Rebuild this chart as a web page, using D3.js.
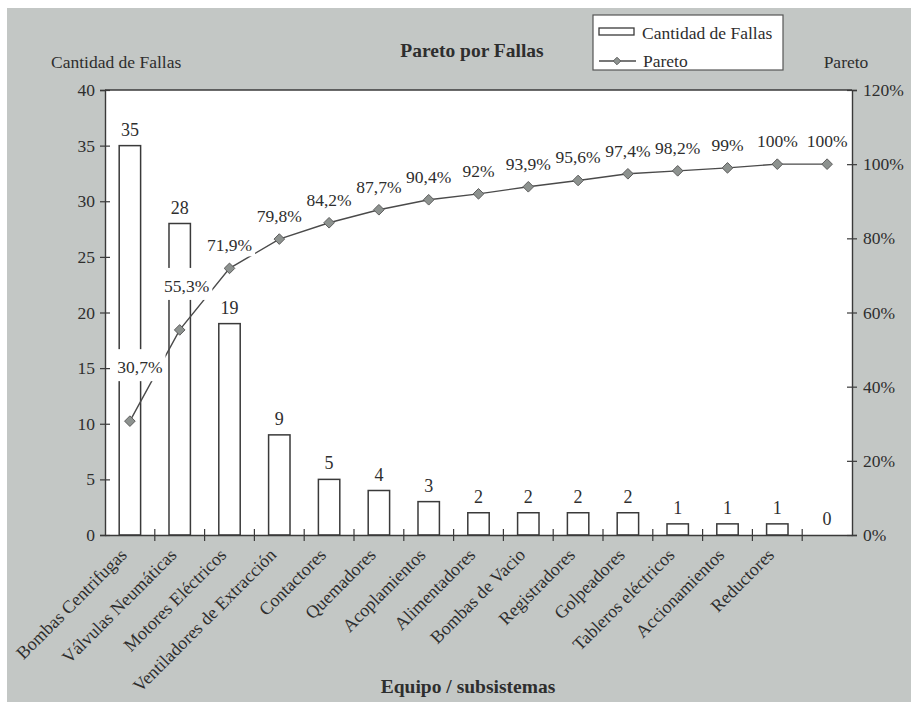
<!DOCTYPE html>
<html>
<head>
<meta charset="utf-8">
<script src="https://cdn.jsdelivr.net/npm/d3@7"></script>
<style>
  html, body { margin: 0; padding: 0; background: #ffffff; }
  svg { display: block; }
  text { font-family: "Liberation Serif", "Times New Roman", serif; fill: #2e2e2e; }
</style>
</head>
<body>
<svg id="chart" width="911" height="702"></svg>
<script>
// Failure counts per equipment / subsystem, sorted for the Pareto analysis
const categories = [
  "Bombas Centrifugas", "Válvulas Neumáticas", "Motores Eléctricos",
  "Ventiladores de Extracción", "Contactores", "Quemadores", "Acoplamientos",
  "Alimentadores", "Bombas de Vacio", "Registradores", "Golpeadores",
  "Tableros eléctricos", "Accionamientos", "Reductores", ""
];
const fallas = [35, 28, 19, 9, 5, 4, 3, 2, 2, 2, 2, 1, 1, 1, 0];
// Cumulative percentage (as printed on the chart)
const pareto = [30.7, 55.3, 71.9, 79.8, 84.2, 87.7, 90.4, 92, 93.9, 95.6, 97.4, 98.2, 99, 100, 100];
const countTicks = [0, 5, 10, 15, 20, 25, 30, 35, 40];
const pctTicks = [0, 20, 40, 60, 80, 100, 120];

const svg = d3.select("#chart");
const W = 911, H = 702;
const plot = { left: 105, right: 852, top: 90, bottom: 535 };

// scanned-page grey background
svg.append("rect").attr("x", 7).attr("y", 8).attr("width", W - 7).attr("height", H - 8)
  .attr("fill", "#c3c7c5");

// white plot area
svg.append("rect")
  .attr("x", plot.left).attr("y", plot.top)
  .attr("width", plot.right - plot.left).attr("height", plot.bottom - plot.top)
  .attr("fill", "#ffffff");

const x = d3.scaleBand().domain(d3.range(categories.length))
  .range([plot.left, plot.right]).paddingInner(0).paddingOuter(0);
const yCount = d3.scaleLinear().domain([0, 40]).range([plot.bottom, plot.top]);
const yPct = d3.scaleLinear().domain([0, 120]).range([plot.bottom, plot.top]);
const barW = x.bandwidth() * 0.43;
const cx = i => x(i) + x.bandwidth() / 2;

const ink = "#3a3a3a";

// top frame line
svg.append("line")
  .attr("x1", plot.left).attr("x2", plot.right)
  .attr("y1", plot.top).attr("y2", plot.top)
  .attr("stroke", ink).attr("stroke-width", 1.4);

// bars
svg.append("g").selectAll("rect").data(fallas).join("rect")
  .attr("x", (d, i) => cx(i) - barW / 2)
  .attr("y", d => yCount(d))
  .attr("width", barW)
  .attr("height", d => plot.bottom - yCount(d))
  .attr("fill", "#ffffff")
  .attr("stroke", ink).attr("stroke-width", 1.5);

// bar value labels
svg.append("g").selectAll("text").data(fallas).join("text")
  .attr("x", (d, i) => cx(i))
  .attr("y", d => yCount(d) - 10)
  .attr("text-anchor", "middle")
  .attr("font-size", 18)
  .text(d => d);

// left axis
const gL = svg.append("g").attr("transform", `translate(${plot.left},0)`)
  .call(d3.axisLeft(yCount).tickValues(countTicks).tickSize(5).tickPadding(5));
gL.selectAll(".tick line").attr("x1", 5).attr("x2", -5);
// right axis
const gR = svg.append("g").attr("transform", `translate(${plot.right},0)`)
  .call(d3.axisRight(yPct).tickValues(pctTicks).tickSize(5).tickPadding(6).tickFormat(d => d + "%"));
gR.selectAll(".tick line").attr("x1", -5).attr("x2", 5);
[gL, gR].forEach(g => {
  g.select(".domain").attr("stroke", ink).attr("stroke-width", 1.4);
  g.selectAll(".tick line").attr("stroke", ink).attr("stroke-width", 1.2);
  g.selectAll(".tick text").attr("font-size", 17.5).attr("fill", "#3a3a3a")
    .attr("font-family", "Liberation Serif, serif");
});

// bottom axis with ticks on the category boundaries
const gB = svg.append("g").attr("transform", `translate(0,${plot.bottom})`)
  .call(d3.axisBottom(x).tickSize(0).tickFormat(""));
gB.select(".domain").attr("stroke", ink).attr("stroke-width", 1.4);
gB.selectAll(".tick").remove();
gB.selectAll("line.sep").data(d3.range(1, categories.length)).join("line")
  .attr("class", "sep")
  .attr("x1", i => x(i)).attr("x2", i => x(i))
  .attr("y1", -6).attr("y2", 6)
  .attr("stroke", ink).attr("stroke-width", 1.2);

// category labels, rotated 45 degrees
svg.append("g").selectAll("text").data(categories).join("text")
  .attr("transform", (d, i) => `translate(${cx(i) - 2},${plot.bottom + 21}) rotate(-45)`)
  .attr("text-anchor", "end")
  .attr("font-size", 18)
  .text(d => d);

// cumulative line
const line = d3.line().x((d, i) => cx(i)).y(d => yPct(d));
svg.append("path").datum(pareto)
  .attr("d", line)
  .attr("fill", "none").attr("stroke", "#4a4a4a").attr("stroke-width", 1.4);

const diamond = d3.symbol().type(d3.symbolDiamond2).size(72);
svg.append("g").selectAll("path").data(pareto).join("path")
  .attr("transform", (d, i) => `translate(${cx(i)},${yPct(d)})`)
  .attr("d", diamond)
  .attr("fill", "#8d928f").attr("stroke", "#5e5e5e").attr("stroke-width", 1);

// percentage labels with white knock-out boxes
const nudge = { 0: [10, -48], 1: [7, -38] };
const fmtPct = v => String(v).replace(".", ",") + "%";
const gLab = svg.append("g");
pareto.forEach((v, i) => {
  const [dx, dy] = nudge[i] || [0, -17];
  const g = gLab.append("g");
  const t = g.append("text")
    .attr("x", cx(i) + dx).attr("y", yPct(v) + dy)
    .attr("text-anchor", "middle").attr("font-size", 17.5)
    .text(fmtPct(v));
  const bb = t.node().getBBox();
  g.insert("rect", "text")
    .attr("x", bb.x - 3).attr("y", bb.y - (i < 2 ? 8 : 1))
    .attr("width", bb.width + 6).attr("height", bb.height + (i < 2 ? 12 : 2))
    .attr("fill", "#ffffff");
});

// titles
svg.append("text").attr("x", 472).attr("y", 57).attr("text-anchor", "middle")
  .attr("font-size", 19.5).attr("font-weight", "bold").text("Pareto por Fallas");
svg.append("text").attr("x", 468).attr("y", 693).attr("text-anchor", "middle")
  .attr("font-size", 19.5).attr("font-weight", "bold").text("Equipo / subsistemas");
svg.append("text").attr("x", 51).attr("y", 68).attr("font-size", 17.5).text("Cantidad de Fallas");
svg.append("text").attr("x", 846).attr("y", 68).attr("text-anchor", "middle")
  .attr("font-size", 17.5).text("Pareto");

// legend
const lg = svg.append("g");
lg.append("rect").attr("x", 593).attr("y", 15).attr("width", 190).attr("height", 55)
  .attr("fill", "#ffffff").attr("stroke", "#555").attr("stroke-width", 1.2);
lg.append("rect").attr("x", 599).attr("y", 28).attr("width", 35).attr("height", 7)
  .attr("fill", "#ffffff").attr("stroke", ink).attr("stroke-width", 1.3);
lg.append("text").attr("x", 642).attr("y", 39).attr("font-size", 17.5).text("Cantidad de Fallas");
lg.append("line").attr("x1", 599).attr("x2", 636).attr("y1", 61).attr("y2", 61)
  .attr("stroke", "#4a4a4a").attr("stroke-width", 1.4);
lg.append("path").attr("transform", "translate(617,61)")
  .attr("d", d3.symbol().type(d3.symbolDiamond2).size(36))
  .attr("fill", "#8d928f").attr("stroke", "#5e5e5e").attr("stroke-width", 1);
lg.append("text").attr("x", 643).attr("y", 67).attr("font-size", 17.5).text("Pareto");
</script>
</body>
</html>
